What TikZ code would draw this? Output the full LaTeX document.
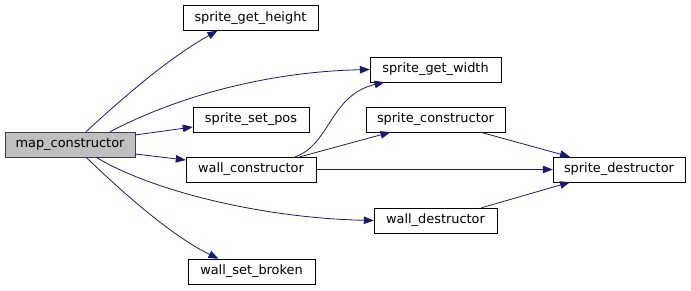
\documentclass[tikz,border=0pt]{standalone}
\usepackage{fontspec}
\setmainfont{DejaVu Sans}
\usetikzlibrary{arrows.meta}
\definecolor{edgeblue}{HTML}{191970}
\tikzset{
  fn/.style={draw=black,fill=white,rectangle,inner sep=0pt,minimum height=25pt,
             font=\fontsize{12.9}{15}\selectfont},
  rootfn/.style={fn,fill=black!25,draw=black!75},
  call/.style={draw=edgeblue,line width=0.8pt,-{Triangle[length=10pt,width=7.5pt]}}
}

\begin{document}
\begin{tikzpicture}[x=1pt,y=-1pt]
        \useasboundingbox (0,0) rectangle (691,291);

        %%% NODES %%%
        \node[rootfn,minimum width=130pt] (map) at (70,144.5) {map\_constructor};
        \node[fn,minimum width=135pt] (height) at (250.5,18) {sprite\_get\_height};
        \node[fn,minimum width=131pt] (width) at (435.5,69.5) {sprite\_get\_width};
        \node[fn,minimum width=116pt] (setpos) at (251,119.5) {sprite\_set\_pos};
        \node[fn,minimum width=139pt] (sctor) at (435.5,119.5) {sprite\_constructor};
        \node[fn,minimum width=130pt] (wctor) at (251,169.5) {wall\_constructor};
        \node[fn,minimum width=132pt] (sdtor) at (619,169.5) {sprite\_destructor};
        \node[fn,minimum width=123pt] (wdtor) at (435.5,220.5) {wall\_destructor};
        \node[fn,minimum width=127pt] (broken) at (251.5,271.5) {wall\_set\_broken};

        %%% CALLS FROM map_constructor %%%
        \draw[call] ([xshift=16pt]map.north) .. controls (115,105) and (165,60) .. ([xshift=-33pt]height.south);
        \draw[call] ([xshift=40pt]map.north) .. controls (170,100) and (260,72) .. (width.west);
        \draw[call] ([yshift=9.5pt]map.east) -- ([yshift=-7.5pt]setpos.west);
        \draw[call] ([yshift=-9.5pt]map.east) -- ([yshift=9.5pt]wctor.west);
        \draw[call] ([xshift=26pt]map.south) .. controls (150,190) and (260,218) .. (wdtor.west);
        \draw[call] ([xshift=16pt]map.south) .. controls (120,190) and (170,235) .. ([xshift=-33pt]broken.north);

        %%% CALLS FROM wall_constructor %%%
        \draw[call] ([xshift=44pt]wctor.north) .. controls (330,145) and (330,95) .. ([xshift=-51pt]width.south);
        \draw[call] ([xshift=49pt]wctor.north) -- ([xshift=-45pt]sctor.south);
        \draw[call] (wctor.east) -- (sdtor.west);

        %%% CALLS INTO sprite_destructor %%%
        \draw[call] ([xshift=45pt]sctor.south) -- ([xshift=-49pt]sdtor.north);
        \draw[call] ([xshift=46pt]wdtor.north) -- ([xshift=-49pt]sdtor.south);
\end{tikzpicture}
\end{document}
